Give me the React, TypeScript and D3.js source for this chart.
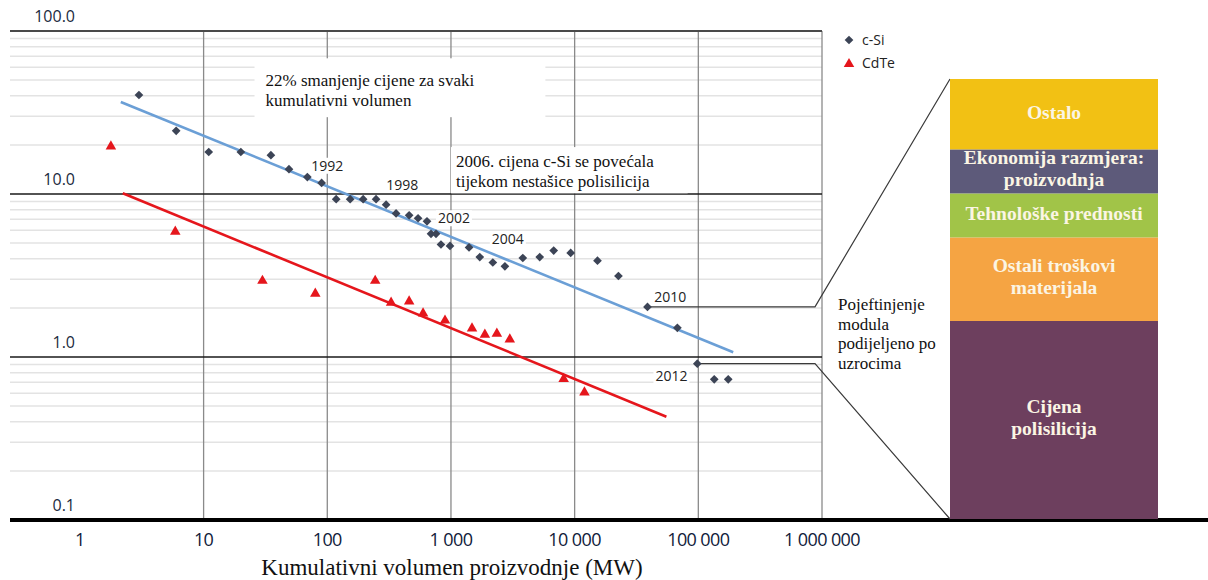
import { useEffect, useRef } from 'react';
import * as d3 from 'd3';

// c-Si module price vs cumulative volume
const cSiVolume = [3, 6, 11, 20, 35, 49, 69, 90, 118, 153, 195, 248, 299, 360, 459, 542, 640, 690, 757, 830, 982, 1400, 1710, 2180, 2730, 3810, 5220, 6770, 9290, 15300, 22600, 38800, 67700, 98100, 134500, 174500];
const cSiPrice = [40.5, 24.4, 18.1, 18.1, 17.3, 14.2, 12.7, 11.7, 9.3, 9.3, 9.3, 9.3, 8.6, 7.6, 7.4, 7.1, 6.8, 5.7, 5.7, 4.9, 4.8, 4.7, 4.1, 3.8, 3.6, 4.05, 4.1, 4.5, 4.35, 3.9, 3.14, 2.03, 1.51, 0.91, 0.73, 0.73];

// CdTe module price vs cumulative volume
const cdTeVolume = [1.78, 5.9, 29.9, 80, 244, 328, 459, 595, 895, 1480, 1880, 2350, 2990, 8150, 12000];
const cdTePrice = [20, 6.0, 3.0, 2.5, 3.0, 2.2, 2.24, 1.89, 1.71, 1.53, 1.4, 1.42, 1.31, 0.75, 0.62];

// learning-curve fits (start, end)
const cSiTrendVolume = [2.14, 191500];
const cSiTrendPrice = [36.7, 1.07];
const cdTeTrendVolume = [2.22, 55200];
const cdTeTrendPrice = [10.1, 0.43];

// year markers along the c-Si series
const yearLabels = ['1992', '1998', '2002', '2004', '2010', '2012'];
const yearVolume = [100, 403, 1057, 2884, 59450, 60600];
const yearPrice = [14.9, 11.4, 7.1, 5.3, 2.33, 0.76];

// axes
const xTickValues = [1, 10, 100, 1000, 10000, 100000, 1000000];
const xTickLabels = ['1', '10', '100', '1 000', '10 000', '100 000', '1 000 000'];
const yTickValues = [100, 10, 1, 0.1];
const yTickLabels = ['100.0', '10.0', '1.0', '0.1'];

// breakdown of module cost reduction (bottom to top, %)
const breakdownLabels = [['Cijena', 'polisilicija'], ['Ostali troškovi', 'materijala'], ['Tehnološke prednosti'], ['Ekonomija razmjera:', 'proizvodnja'], ['Ostalo']];
const breakdownShare = [45, 19, 10, 10, 16];
const breakdownColors = ['#6d3f5e', '#f5a443', '#a1c448', '#5d5a7a', '#f2c114'];

const SANS = '"Open Sans", Roboto, sans-serif';
const SERIF = '"Liberation Serif", "Times New Roman", serif';

export default function App() {
  const containerRef = useRef<HTMLDivElement>(null);

  useEffect(() => {
    if (!containerRef.current) return;
    d3.select(containerRef.current).selectAll('*').remove();

    const width = 1208;
    const height = 580;

    const svg = d3
      .select(containerRef.current)
      .append('svg')
      .attr('width', width)
      .attr('height', height)
      .style('display', 'block');

    const plot = { left: 10, right: 822, top: 31, bottom: 520 };

    const x = d3.scaleLog().domain([0.272, 1e6]).range([plot.left, plot.right]);
    const y = d3.scaleLog().domain([0.1, 100]).range([plot.bottom, plot.top]);

    // minor horizontal grid
    const minor: number[] = [];
    [0.1, 1, 10].forEach((d) => {
      for (let k = 2; k <= 9; k++) minor.push(k * d);
    });
    svg
      .append('g')
      .selectAll('line')
      .data(minor)
      .join('line')
      .attr('x1', plot.left)
      .attr('x2', plot.right)
      .attr('y1', (d) => y(d))
      .attr('y2', (d) => y(d))
      .attr('stroke', '#e3e3e3')
      .attr('stroke-width', 1.5);

    // vertical grid
    svg
      .append('g')
      .selectAll('line')
      .data(xTickValues.slice(1))
      .join('line')
      .attr('x1', (d) => x(d))
      .attr('x2', (d) => x(d))
      .attr('y1', plot.top)
      .attr('y2', plot.bottom)
      .attr('stroke', '#8a8a8a')
      .attr('stroke-width', 1.3);

    // major horizontal lines
    svg
      .append('g')
      .selectAll('line')
      .data([100, 10, 1])
      .join('line')
      .attr('x1', plot.left)
      .attr('x2', plot.right)
      .attr('y1', (d) => y(d))
      .attr('y2', (d) => y(d))
      .attr('stroke', (d) => (d === 100 ? '#4a4a4a' : '#1a1a1a'))
      .attr('stroke-width', (d) => (d === 100 ? 2 : 1.4));

    // bottom axis line
    svg
      .append('line')
      .attr('x1', plot.left)
      .attr('x2', width)
      .attr('y1', plot.bottom)
      .attr('y2', plot.bottom)
      .attr('stroke', '#000')
      .attr('stroke-width', 4);

    // y tick labels
    svg
      .append('g')
      .selectAll('text')
      .data(yTickValues)
      .join('text')
      .attr('x', 75)
      .attr('y', (d) => y(d) - 9)
      .attr('text-anchor', 'end')
      .attr('font-family', SANS)
      .attr('font-size', 16)
      .attr('fill', '#1b2a3e')
      .text((_, i) => yTickLabels[i]);

    // x tick labels
    svg
      .append('g')
      .selectAll('text')
      .data(xTickValues)
      .join('text')
      .attr('x', (d) => x(d))
      .attr('y', 546)
      .attr('text-anchor', 'middle')
      .attr('font-family', SANS)
      .attr('font-size', 18)
      .attr('letter-spacing', -0.6)
      .attr('fill', '#10203a')
      .text((_, i) => xTickLabels[i]);

    svg
      .append('text')
      .attr('x', 452)
      .attr('y', 575)
      .attr('text-anchor', 'middle')
      .attr('font-family', SERIF)
      .attr('font-size', 23)
      .attr('fill', '#111')
      .text('Kumulativni volumen proizvodnje (MW)');

    // annotation boxes
    const notes = [
      { x0: 25.8, x1: 5800, y0: 68, y1: 29.6, lines: ['22% smanjenje cijene za svaki', 'kumulativni volumen'] },
      { x0: 1000, x1: 82000, y0: 19.4, y1: 10.1, lines: ['2006. cijena c-Si se povećala', 'tijekom nestašice polisilicija'] },
    ];
    notes.forEach((n, ni) => {
      const bx = x(n.x0);
      const by = y(n.y0);
      svg
        .append('rect')
        .attr('x', bx)
        .attr('y', by)
        .attr('width', x(n.x1) - bx)
        .attr('height', y(n.y1) - by)
        .attr('fill', '#fff');
      n.lines.forEach((t, i) => {
        svg
          .append('text')
          .attr('x', bx + (ni === 0 ? 11 : 5))
          .attr('y', by + (ni === 0 ? 28 : 20) + i * 19.5)
          .attr('font-family', SERIF)
          .attr('font-size', 17)
          .attr('fill', '#111')
          .text(t);
      });
    });

    // trend lines
    const trend = d3
      .line<[number, number]>()
      .x((d) => x(d[0]))
      .y((d) => y(d[1]));
    svg
      .append('path')
      .datum(cSiTrendVolume.map((v, i) => [v, cSiTrendPrice[i]] as [number, number]))
      .attr('d', trend)
      .attr('fill', 'none')
      .attr('stroke', '#6b9fd6')
      .attr('stroke-width', 2.6);
    svg
      .append('path')
      .datum(cdTeTrendVolume.map((v, i) => [v, cdTeTrendPrice[i]] as [number, number]))
      .attr('d', trend)
      .attr('fill', 'none')
      .attr('stroke', '#e5161c')
      .attr('stroke-width', 2.6);

    // callout lines to breakdown bar
    const bar = { x0: 950, x1: 1158 };
    const barY = d3.scaleLinear().domain([0, 100]).range([519, 79]);
    const elbowX = 815;
    const callouts = [
      { i: 31, target: 100 },
      { i: 33, target: 0 },
    ];
    callouts.forEach((c) => {
      const px = x(cSiVolume[c.i]);
      const py = y(cSiPrice[c.i]);
      svg
        .append('path')
        .attr('d', `M${px},${py}L${elbowX},${py}L${bar.x0},${barY(c.target)}`)
        .attr('fill', 'none')
        .attr('stroke', '#3a3a3a')
        .attr('stroke-width', 1.2);
    });

    // year labels
    const yl = svg.append('g');
    yearLabels.forEach((label, i) => {
      const cx = x(yearVolume[i]);
      const cy = y(yearPrice[i]);
      yl.append('rect')
        .attr('x', cx - 18)
        .attr('y', cy - 8)
        .attr('width', 36)
        .attr('height', 16)
        .attr('fill', '#fff');
      yl.append('text')
        .attr('x', cx)
        .attr('y', cy + 5)
        .attr('text-anchor', 'middle')
        .attr('font-family', SANS)
        .attr('font-size', 14)
        .attr('fill', '#222')
        .text(label);
    });

    // points
    const diamond = d3.symbol().type(d3.symbolSquare).size(38);
    svg
      .append('g')
      .selectAll('path')
      .data(cSiVolume)
      .join('path')
      .attr('d', diamond)
      .attr('transform', (d, i) => `translate(${x(d)},${y(cSiPrice[i])}) rotate(45)`)
      .attr('fill', '#3c4456');

    const triangle = d3.symbol().type(d3.symbolTriangle).size(48);
    svg
      .append('g')
      .selectAll('path')
      .data(cdTeVolume)
      .join('path')
      .attr('d', triangle)
      .attr('transform', (d, i) => `translate(${x(d)},${y(cdTePrice[i]) + 1.5})`)
      .attr('fill', '#e5161c');

    // legend
    const legend = svg.append('g').attr('transform', 'translate(849,40)');
    legend.append('path').attr('d', diamond).attr('transform', 'rotate(45)').attr('fill', '#3c4456');
    legend.append('path').attr('d', triangle).attr('transform', 'translate(0,24)').attr('fill', '#e5161c');
    [['c-Si', 0], ['CdTe', 23]].forEach(([t, dy]) => {
      legend
        .append('text')
        .attr('x', 13)
        .attr('y', (dy as number) + 5)
        .attr('font-family', SANS)
        .attr('font-size', 14)
        .attr('fill', '#222')
        .text(t as string);
    });

    // explanatory text next to bar
    ['Pojeftinjenje', 'modula', 'podijeljeno po', 'uzrocima'].forEach((t, i) => {
      svg
        .append('text')
        .attr('x', 838)
        .attr('y', 310 + i * 19.7)
        .attr('font-family', SERIF)
        .attr('font-size', 17)
        .attr('fill', '#111')
        .text(t);
    });

    // stacked breakdown bar
    const stack = breakdownShare.map((v, i) => {
      const start = d3.sum(breakdownShare.slice(0, i));
      return { start, end: start + v, lines: breakdownLabels[i], color: breakdownColors[i] };
    });
    const barG = svg.append('g');
    stack.forEach((s) => {
      const top = barY(s.end);
      const bottom = barY(s.start);
      barG
        .append('rect')
        .attr('x', bar.x0)
        .attr('y', top)
        .attr('width', bar.x1 - bar.x0)
        .attr('height', bottom - top)
        .attr('fill', s.color);
      const mid = (top + bottom) / 2;
      s.lines.forEach((t, j) => {
        const off = s.lines.length === 1 ? 5 : j === 0 ? -7 : 15;
        barG
          .append('text')
          .attr('x', (bar.x0 + bar.x1) / 2)
          .attr('y', mid + off)
          .attr('text-anchor', 'middle')
          .attr('font-family', SERIF)
          .attr('font-weight', 'bold')
          .attr('font-size', 19.5)
          .attr('fill', '#fbf5e4')
          .text(t);
      });
    });
  }, []);

  return <div ref={containerRef} style={{ position: 'absolute', left: 0, top: 0, width: 1208, height: 580 }}></div>;
}
